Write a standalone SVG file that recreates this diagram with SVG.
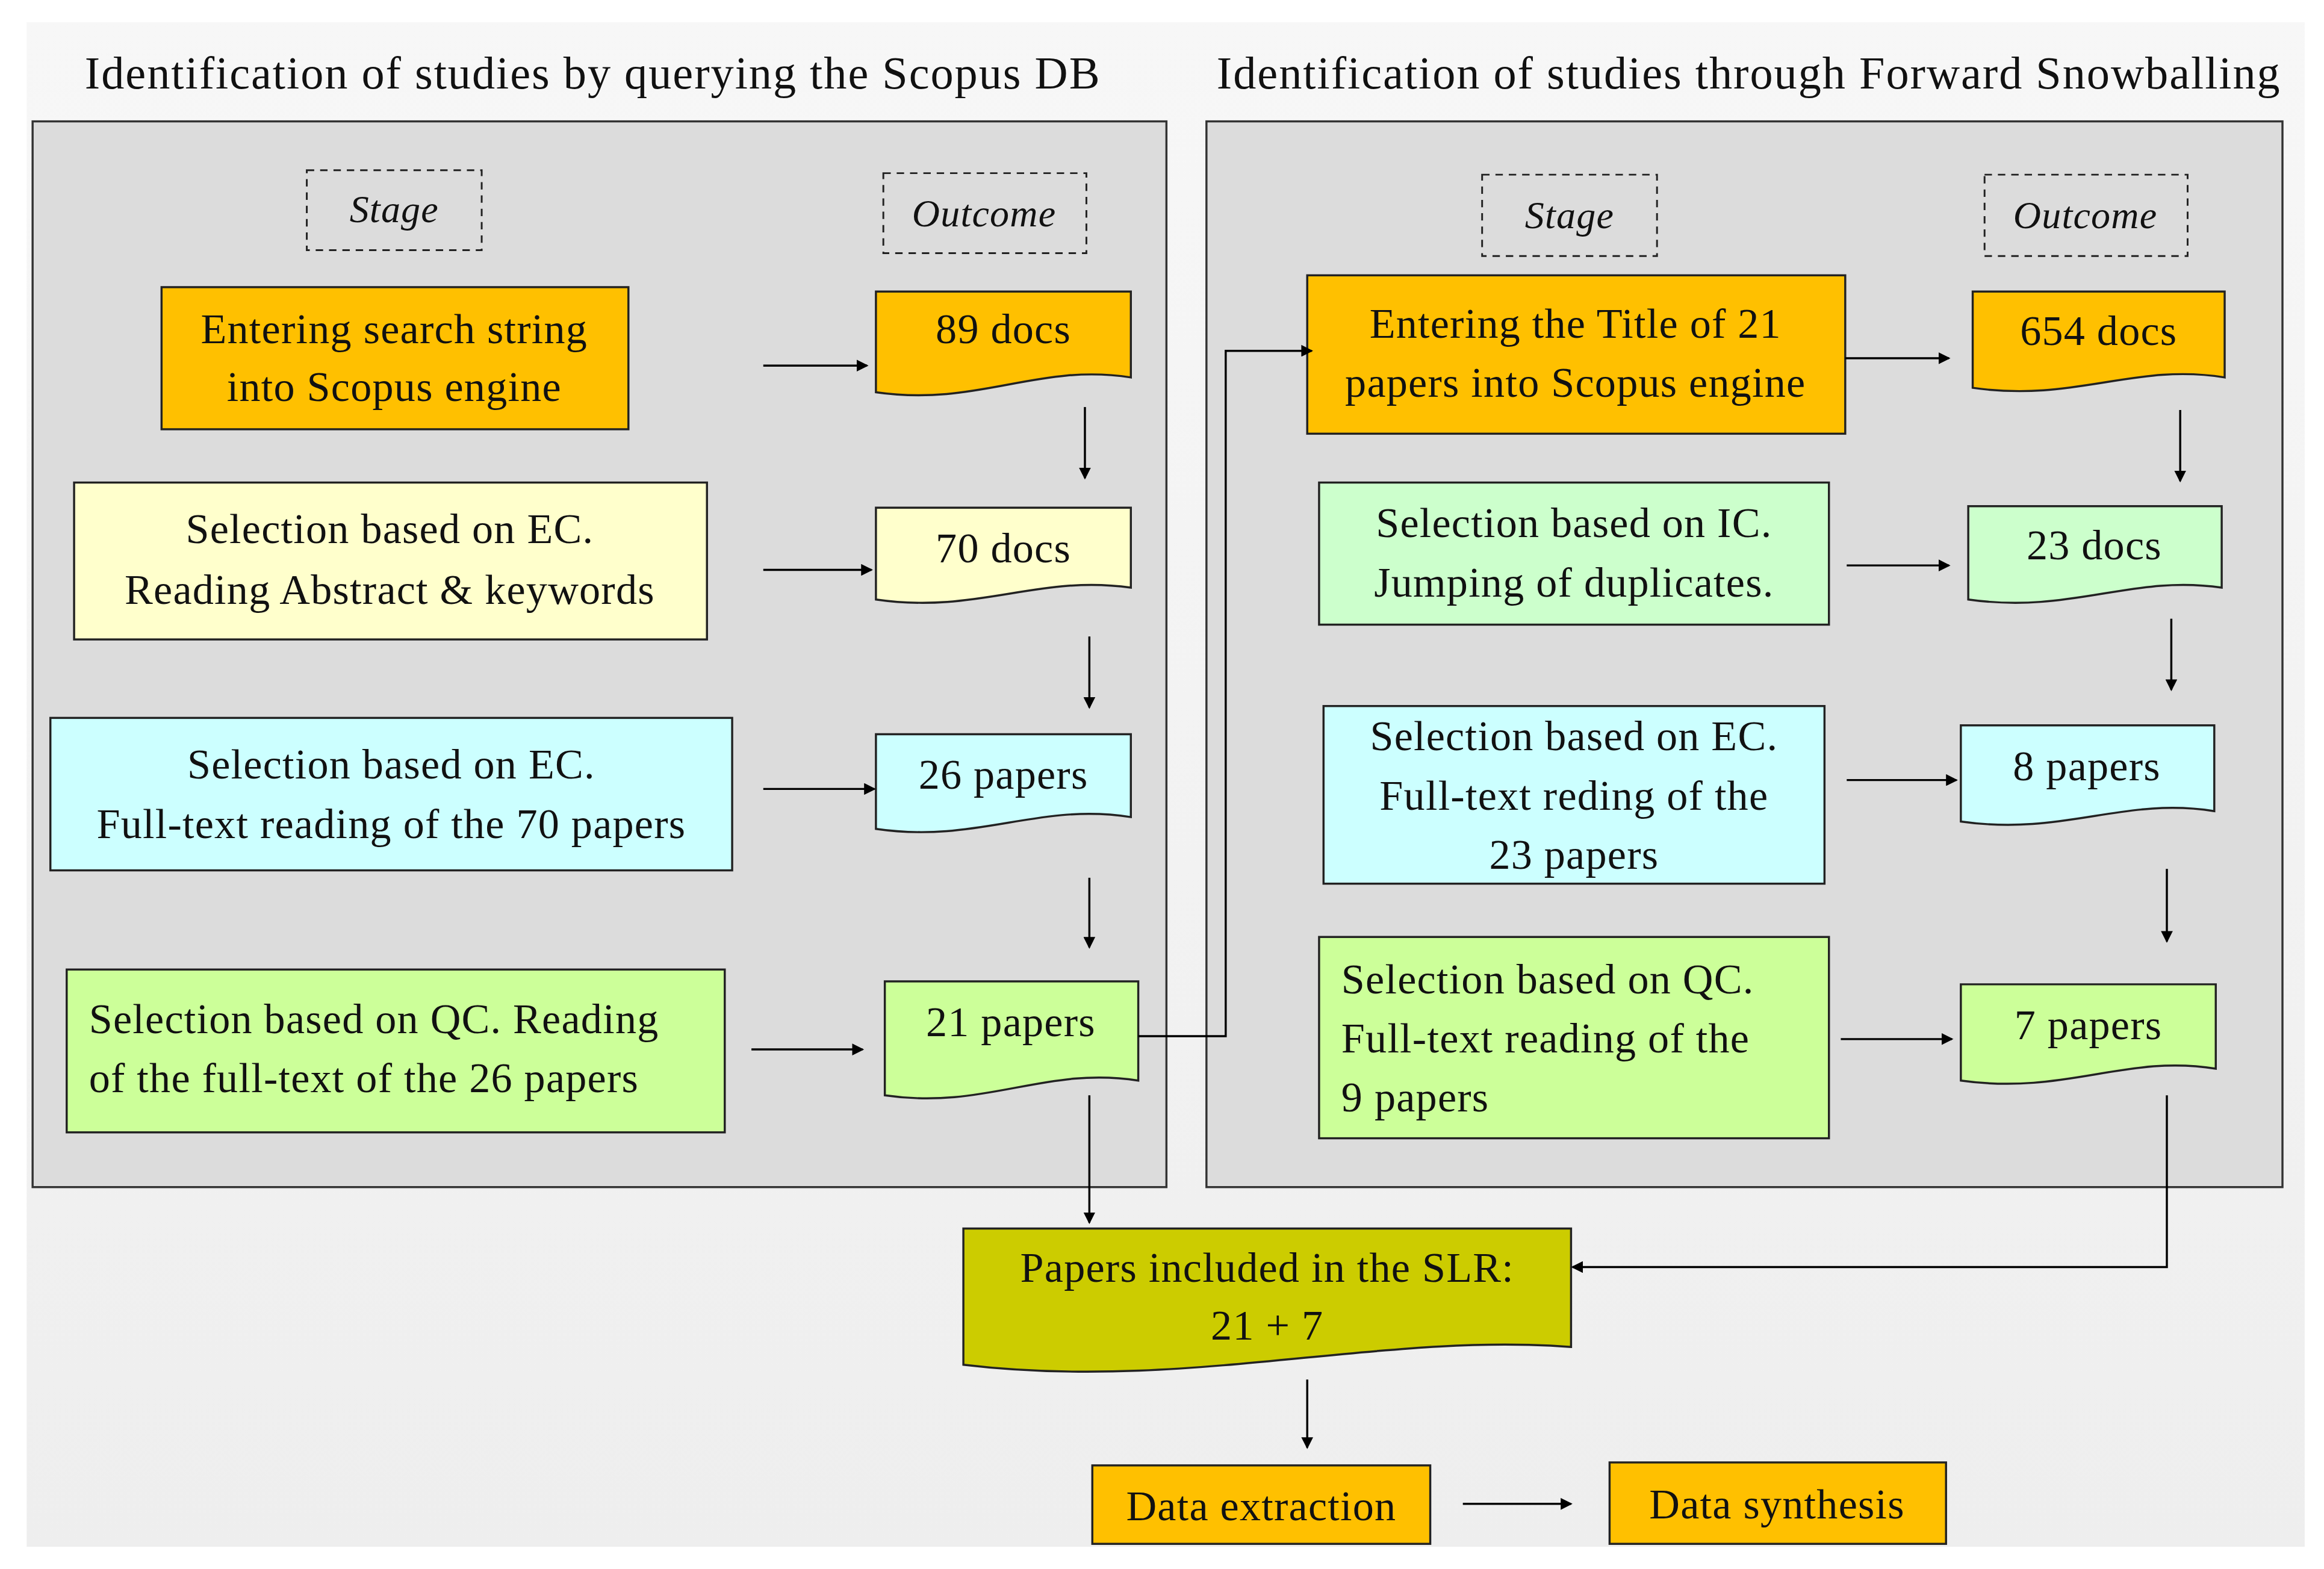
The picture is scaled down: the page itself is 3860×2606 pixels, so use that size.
<svg xmlns="http://www.w3.org/2000/svg" width="3860" height="2606" viewBox="0 0 3860 2606">
<defs>
<marker id="ah" markerWidth="8" markerHeight="8" refX="7" refY="4" orient="auto" markerUnits="userSpaceOnUse"><path d="M0,0 L8,4 L0,8 Z" fill="#000"/></marker>
<linearGradient id="bg" x1="0" y1="0" x2="0" y2="1"><stop offset="0" stop-color="#f7f7f7"/><stop offset="1" stop-color="#eeeeee"/></linearGradient>
</defs>
<style>
text{font-family:"Liberation Serif","DejaVu Serif",serif;font-size:28.5px;letter-spacing:0.5px;fill:#111;text-anchor:middle}
.t{font-size:31px;letter-spacing:0.8px}
.l{text-anchor:start}
.i{font-style:italic;font-size:26px}
.b{stroke:#222;stroke-width:1.4}
.d{fill:none;stroke:#222;stroke-width:1.2;stroke-dasharray:5,4}
.c{fill:none;stroke:#000;stroke-width:1.4;marker-end:url(#ah)}
.or{fill:#ffc000}.ly{fill:#ffffcc}.cy{fill:#ccffff}.gr{fill:#ccff99}.lg{fill:#ccffcc}.ol{fill:#cccc00}
</style>
<rect width="3860" height="2606" fill="#fff"/>
<g transform="scale(2.4617,2.4585)">
<rect x="18" y="15" width="1537" height="1030" fill="url(#bg)"/>
<g id="panels">
<rect x="22" y="82" width="765" height="720" fill="#dcdcdc" stroke="#333" stroke-width="1.4"/>
<rect x="814" y="82" width="726" height="720" fill="#dcdcdc" stroke="#333" stroke-width="1.4"/>
<text class="t" x="400" y="60">Identification of  studies by querying the Scopus DB</text>
<text class="t" x="1180" y="60">Identification of  studies through Forward Snowballing</text>
</g>
<g id="headers">
<rect class="d" x="207" y="115" width="118" height="54"/><text class="i" x="266" y="150">Stage</text>
<rect class="d" x="596" y="117" width="137" height="54"/><text class="i" x="664" y="153">Outcome</text>
<rect class="d" x="1000" y="118" width="118" height="55"/><text class="i" x="1059" y="154">Stage</text>
<rect class="d" x="1339" y="118" width="137" height="55"/><text class="i" x="1407" y="154">Outcome</text>
</g>
<g id="L1"><rect class="b or" x="109" y="194" width="315" height="96"/><text x="266" y="232">Entering search string</text><text x="266" y="271">into Scopus engine</text></g>
<g id="L2"><rect class="b ly" x="50" y="326" width="427" height="106"/><text x="263" y="367">Selection based on EC.</text><text x="263" y="408">Reading Abstract &amp; keywords</text></g>
<g id="L3"><rect class="b cy" x="34" y="485" width="460" height="103"/><text x="264" y="526">Selection based on EC.</text><text x="264" y="566">Full-text reading of the 70 papers</text></g>
<g id="L4"><rect class="b gr" x="45" y="655" width="444" height="110"/><text class="l" x="60" y="698">Selection based on QC. Reading</text><text class="l" x="60" y="738">of  the full-text of  the 26 papers</text></g>
<g id="O1"><path class="b or" d="M591,197 H763 V255 C700,245 660,275 591,265 Z"/><text x="677" y="232">89 docs</text></g>
<g id="O2"><path class="b ly" d="M591,343 H763 V397 C700,388 660,415 591,405 Z"/><text x="677" y="380">70 docs</text></g>
<g id="O3"><path class="b cy" d="M591,496 H763 V552 C700,542 660,570 591,560 Z"/><text x="677" y="533">26 papers</text></g>
<g id="O4"><path class="b gr" d="M597,663 H768 V730 C705,720 665,750 597,740 Z"/><text x="682" y="700">21 papers</text></g>
<g id="R1"><rect class="b or" x="882" y="186" width="363" height="107"/><text x="1063" y="228">Entering the Title of  21</text><text x="1063" y="268">papers into Scopus engine</text></g>
<g id="R2"><rect class="b lg" x="890" y="326" width="344" height="96"/><text x="1062" y="363">Selection based on IC.</text><text x="1062" y="403">Jumping of  duplicates.</text></g>
<g id="R3"><rect class="b cy" x="893" y="477" width="338" height="120"/><text x="1062" y="507">Selection based on EC.</text><text x="1062" y="547">Full-text reding of  the</text><text x="1062" y="587">23 papers</text></g>
<g id="R4"><rect class="b gr" x="890" y="633" width="344" height="136"/><text class="l" x="905" y="671">Selection based on QC.</text><text class="l" x="905" y="711">Full-text reading of  the</text><text class="l" x="905" y="751">9 papers</text></g>
<g id="Q1"><path class="b or" d="M1331,197 H1501 V255 C1440,245 1400,272 1331,262 Z"/><text x="1416" y="233">654 docs</text></g>
<g id="Q2"><path class="b lg" d="M1328,342 H1499 V397 C1438,388 1398,415 1328,405 Z"/><text x="1413" y="378">23 docs</text></g>
<g id="Q3"><path class="b cy" d="M1323,490 H1494 V548 C1433,538 1393,565 1323,555 Z"/><text x="1408" y="527">8 papers</text></g>
<g id="Q4"><path class="b gr" d="M1323,665 H1495 V722 C1434,712 1394,740 1323,730 Z"/><text x="1409" y="702">7 papers</text></g>
<g id="SLR"><path class="b ol" d="M650,830 H1060 V910 C930,900 800,940 650,922 Z"/><text x="855" y="866">Papers included in the SLR:</text><text x="855" y="905">21 + 7</text></g>
<g id="DE"><rect class="b or" x="737" y="990" width="228" height="53"/><text x="851" y="1027">Data extraction</text></g>
<g id="DS"><rect class="b or" x="1086" y="988" width="227" height="55"/><text x="1199" y="1026">Data synthesis</text></g>
<g id="connectors">
<path class="c" d="M515,247 H585"/><path class="c" d="M515,385 H588"/><path class="c" d="M515,533 H590"/><path class="c" d="M507,709 H582"/>
<path class="c" d="M732,275 V323"/><path class="c" d="M735,430 V478"/><path class="c" d="M735,593 V640"/><path class="c" d="M735,740 V826"/>
<path class="c" d="M768,700 H827 V237 H885"/>
<path class="c" d="M1245,242 H1315"/><path class="c" d="M1246,382 H1315"/><path class="c" d="M1246,527 H1320"/><path class="c" d="M1242,702 H1317"/>
<path class="c" d="M1471,277 V325"/><path class="c" d="M1465,418 V466"/><path class="c" d="M1462,587 V636"/>
<path class="c" d="M1462,740 V856 H1061"/>
<path class="c" d="M882,932 V978"/><path class="c" d="M987,1016 H1060"/>
</g>
</g>
</svg>
